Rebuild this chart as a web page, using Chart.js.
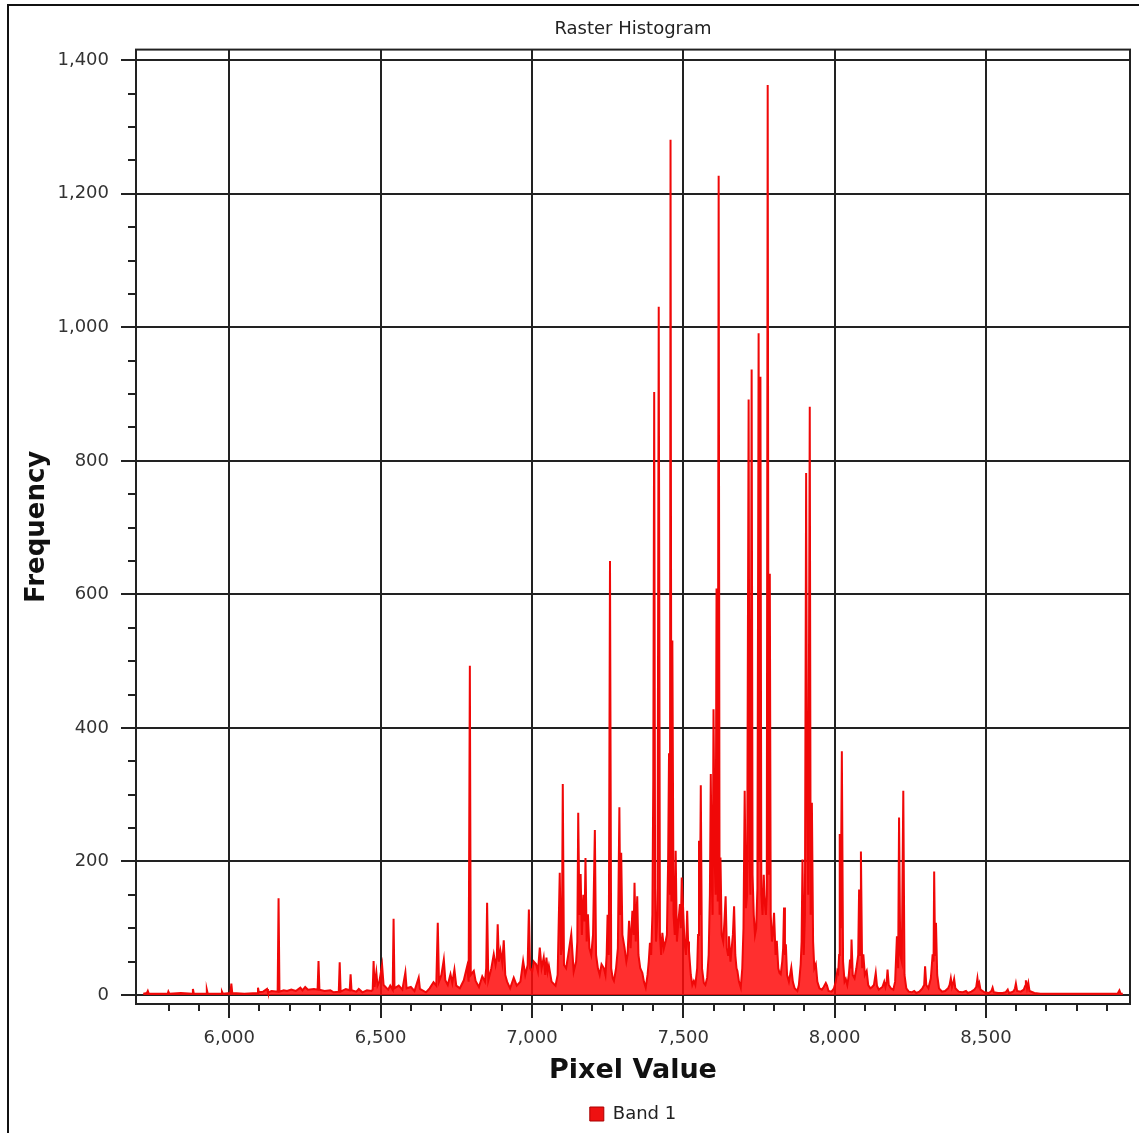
<!DOCTYPE html>
<html>
<head>
<meta charset="utf-8">
<script src="https://cdn.jsdelivr.net/npm/chart.js@4.4.0/dist/chart.umd.min.js"></script>
<style>
  html, body { margin: 0; padding: 0; background: #fff; }
  #wrap { position: relative; width: 1139px; height: 1133px; overflow: hidden; }
  #frame { position: absolute; left: 7px; top: 4px; width: 1300px; height: 1300px;
           border-left: 2px solid #111; border-top: 2px solid #111; }
  #chart { position: absolute; left: 0; top: 0; }
</style>
</head>
<body>
<div id="wrap">
  <div id="frame"></div>
  <canvas id="chart" width="1139" height="1133"></canvas>
</div>
<script>
// Histogram: pixel value -> frequency
const pixelValues = [
  5716, 5728, 5731, 5734, 5760, 5797, 5799, 5802, 5840, 5878, 5880, 5883, 5924, 5926, 5929, 5974, 5976, 5979,
  6004, 6007, 6010, 6050, 6093, 6095, 6098, 6112, 6125, 6128, 6140, 6160, 6163, 6166, 6180, 6191, 6205, 6220,
  6235, 6242, 6251, 6260, 6280, 6292, 6295, 6298, 6315, 6334, 6345, 6362, 6365, 6368, 6385, 6398, 6401, 6404,
  6420, 6428, 6440, 6455, 6470, 6474, 6477, 6480, 6486, 6490, 6496, 6505, 6510, 6525, 6532, 6540, 6543, 6546,
  6560, 6572, 6582, 6586, 6600, 6612, 6626, 6630, 6650, 6662, 6675, 6684, 6689, 6693, 6701, 6709, 6714, 6722,
  6731, 6737, 6744, 6750, 6762, 6775, 6786, 6791, 6795, 6798, 6808, 6814, 6825, 6836, 6845, 6849, 6852, 6856,
  6866, 6874, 6880, 6884, 6887, 6891, 6896, 6902, 6907, 6912, 6918, 6928, 6940, 6950, 6962, 6971, 6978, 6986,
  6990, 6994, 7001, 7006, 7014, 7020, 7026, 7032, 7039, 7044, 7048, 7052, 7056, 7065, 7078, 7085, 7092, 7096,
  7099, 7102, 7106, 7113, 7120, 7130, 7138, 7146, 7150, 7153, 7157, 7161, 7165, 7170, 7174, 7177, 7181, 7185,
  7190, 7196, 7202, 7208, 7212, 7218, 7224, 7230, 7238, 7243, 7247, 7250, 7254, 7258, 7262, 7267, 7271, 7278,
  7284, 7289, 7292, 7295, 7299, 7306, 7312, 7316, 7321, 7326, 7332, 7336, 7339, 7343, 7348, 7352, 7358, 7365,
  7370, 7376, 7382, 7386, 7390, 7394, 7398, 7401, 7404, 7407, 7410, 7415, 7419, 7423, 7427, 7431, 7436, 7442,
  7446, 7450, 7453, 7456, 7458, 7461, 7464, 7468, 7472, 7475, 7479, 7484, 7489, 7492, 7495, 7499, 7504, 7509,
  7513, 7516, 7519, 7525, 7530, 7535, 7540, 7546, 7549, 7552, 7555, 7558, 7562, 7568, 7573, 7579, 7584, 7588,
  7591, 7594, 7597, 7600, 7604, 7607, 7610, 7614, 7617, 7620, 7623, 7627, 7632, 7636, 7640, 7644, 7648, 7651,
  7656, 7660, 7664, 7668, 7672, 7676, 7679, 7684, 7690, 7695, 7699, 7703, 7707, 7711, 7716, 7719, 7722, 7726,
  7729, 7733, 7737, 7741, 7745, 7749, 7752, 7755, 7758, 7762, 7766, 7769, 7773, 7776, 7779, 7782, 7786, 7789,
  7793, 7796, 7800, 7805, 7809, 7814, 7818, 7822, 7827, 7830, 7833, 7836, 7839, 7843, 7849, 7853, 7857, 7862,
  7868, 7873, 7877, 7882, 7888, 7891, 7894, 7898, 7902, 7906, 7909, 7913, 7918, 7921, 7925, 7929, 7933, 7938,
  7943, 7950, 7958, 7964, 7971, 7975, 7980, 7990, 7998, 8004, 8009, 8012, 8015, 8017, 8020, 8024, 8028, 8033,
  8037, 8042, 8047, 8051, 8054, 8056, 8060, 8066, 8072, 8078, 8081, 8084, 8087, 8091, 8095, 8100, 8106, 8111,
  8118, 8124, 8130, 8136, 8140, 8146, 8152, 8158, 8164, 8168, 8172, 8175, 8179, 8186, 8194, 8200, 8206, 8210,
  8213, 8217, 8222, 8227, 8231, 8237, 8245, 8255, 8263, 8270, 8280, 8290, 8296, 8299, 8303, 8310, 8318, 8324,
  8327, 8329, 8332, 8335, 8339, 8345, 8355, 8365, 8375, 8380, 8384, 8388, 8392, 8395, 8399, 8410, 8422, 8434,
  8440, 8452, 8462, 8468, 8472, 8475, 8478, 8482, 8495, 8510, 8518, 8522, 8526, 8540, 8555, 8565, 8572, 8576,
  8585, 8592, 8596, 8599, 8603, 8615, 8625, 8630, 8632, 8636, 8640, 8644, 8660, 8680, 8720, 8780, 8850, 8900,
  8935, 8941, 8945, 8952
];
const frequencies = [
  2, 3, 6, 2, 2, 2, 5, 2, 3, 2, 9, 2, 2, 8, 2, 2, 5, 2,
  3, 17, 3, 2, 3, 11, 4, 5, 9, 4, 6, 5, 145, 5, 7, 6, 8, 6,
  11, 7, 12, 8, 9, 8, 51, 8, 6, 7, 4, 5, 49, 5, 9, 7, 31, 7,
  5, 9, 4, 7, 6, 8, 51, 12, 34, 14, 20, 45, 15, 8, 14, 8, 114, 10,
  14, 8, 34, 10, 12, 6, 26, 9, 4, 10, 19, 14, 108, 20, 30, 53, 22, 15,
  31, 18, 38, 14, 10, 22, 43, 20, 493, 30, 36, 21, 12, 28, 20, 40, 138, 22,
  40, 61, 45, 55, 106, 50, 66, 48, 82, 30, 20, 10, 26, 14, 20, 51, 30, 45,
  128, 40, 35, 50, 46, 35, 71, 40, 56, 30, 56, 35, 44, 20, 14, 30, 183, 60,
  70, 316, 45, 40, 60, 91, 35, 50, 80, 273, 120, 181, 90, 150, 110, 205, 80, 121,
  70, 60, 90, 247, 60, 40, 30, 46, 40, 30, 60, 120, 60, 650, 40, 25, 21, 40,
  70, 281, 120, 213, 90, 71, 50, 60, 111, 70, 126, 90, 168, 80, 148, 60, 40, 33,
  20, 11, 30, 50, 78, 60, 120, 322, 903, 160, 80, 120, 1031, 90, 60, 93, 70, 81,
  90, 200, 362, 150, 1281, 140, 531, 120, 90, 216, 80, 110, 136, 100, 176, 136, 80, 60,
  126, 80, 66, 30, 15, 21, 15, 40, 90, 231, 120, 314, 40, 18, 15, 26, 60, 150,
  331, 180, 120, 428, 200, 150, 609, 140, 1227, 120, 206, 90, 80, 110, 148, 70, 60, 88,
  50, 70, 90, 133, 60, 40, 36, 20, 11, 40, 100, 306, 130, 150, 892, 200, 150, 937,
  180, 120, 90, 100, 160, 991, 200, 926, 150, 120, 180, 141, 120, 150, 1363, 180, 631, 120,
  80, 90, 123, 60, 81, 40, 33, 31, 50, 70, 131, 60, 76, 30, 20, 30, 41, 20,
  10, 8, 6, 15, 46, 80, 203, 60, 120, 782, 300, 150, 881, 120, 288, 80, 40, 46,
  20, 10, 8, 12, 18, 14, 6, 5, 10, 20, 36, 33, 60, 241, 100, 365, 50, 20,
  24, 15, 30, 53, 40, 83, 30, 25, 40, 60, 158, 60, 215, 40, 61, 30, 36, 15,
  10, 12, 15, 33, 14, 8, 10, 12, 20, 12, 20, 38, 15, 10, 8, 20, 88, 40,
  266, 60, 50, 306, 30, 10, 5, 4, 6, 3, 5, 10, 15, 43, 15, 10, 25, 61,
  50, 185, 60, 108, 30, 10, 5, 6, 10, 15, 25, 12, 18, 24, 10, 5, 4, 6,
  3, 5, 8, 12, 25, 14, 18, 8, 4, 3, 6, 11, 4, 3, 3, 4, 8, 3,
  4, 6, 10, 17, 6, 5, 8, 14, 22, 10, 18, 6, 3, 2, 2, 2, 2, 2,
  2, 7, 2, 2
];
const xTickValues = [6000, 6500, 7000, 7500, 8000, 8500];
const yTickValues = [0, 200, 400, 600, 800, 1000, 1200, 1400];
const X_MIN = 5692, X_MAX = 8976;
const Y_MIN = -13.5, Y_MAX = 1416;

const INK = "#222";
const FONT = "'DejaVu Sans', Verdana, sans-serif";

// minor ticks every 100 / 50 and the box round the plot
const plotFrame = {
  id: "plotFrame",
  afterDraw(chart) {
    const { ctx, chartArea: a, scales: { x, y } } = chart;
    ctx.save();
    ctx.strokeStyle = INK;
    ctx.lineWidth = 2;
    ctx.beginPath();
    for (let v = 5800; v < X_MAX; v += 100) {
      if (v % 500 === 0) continue;
      const px = Math.round(x.getPixelForValue(v));
      ctx.moveTo(px, a.bottom);
      ctx.lineTo(px, a.bottom + 7);
    }
    for (let v = 50; v < Y_MAX; v += 50) {
      if (v % 200 === 0) continue;
      const py = Math.round(y.getPixelForValue(v));
      ctx.moveTo(a.left - 8, py);
      ctx.lineTo(a.left, py);
    }
    ctx.stroke();
    ctx.strokeRect(a.left, a.top, a.width, a.height);
    ctx.restore();
  }
};

const fmt = v => Number(v).toLocaleString("en-US");

new Chart(document.getElementById("chart"), {
  type: "line",
  data: {
    datasets: [{
      label: "Band 1",
      data: pixelValues.map((x, i) => ({ x, y: frequencies[i] })),
      borderColor: "#f00808",
      backgroundColor: "rgba(255, 10, 10, 0.85)",
      borderWidth: 2,
      pointRadius: 0,
      tension: 0,
      fill: "origin"
    }]
  },
  options: {
    responsive: false,
    animation: false,
    layout: { padding: { left: 22, right: 9, top: 10, bottom: 0 } },
    plugins: {
      title: {
        display: true,
        fullSize: false,
        text: "Raster Histogram",
        color: "#222",
        font: { family: FONT, size: 18, weight: "normal" },
        padding: { top: 9, bottom: 9 }
      },
      legend: {
        display: true,
        fullSize: false,
        position: "bottom",
        labels: {
          color: "#222",
          font: { family: FONT, size: 18 },
          boxWidth: 14,
          boxHeight: 14,
          padding: 10,
          generateLabels: chart =>
            Chart.defaults.plugins.legend.labels.generateLabels(chart)
              .map(l => ({ ...l, fillStyle: "#ee1111", strokeStyle: "#a00", lineWidth: 1 }))
        }
      },
      tooltip: { enabled: false }
    },
    scales: {
      x: {
        type: "linear",
        min: X_MIN,
        max: X_MAX,
        afterBuildTicks: s => { s.ticks = xTickValues.map(value => ({ value })); },
        afterFit: s => { s.height = 91; },
        grid: { color: INK, lineWidth: 2, tickLength: 14, tickColor: INK },
        border: { display: true, color: INK, width: 2 },
        ticks: { color: "#333", font: { family: FONT, size: 18 }, padding: 10, maxRotation: 0, callback: fmt },
        title: {
          display: true,
          text: "Pixel Value",
          color: "#111",
          font: { family: FONT, size: 27, weight: "bold" },
          padding: { top: 0, bottom: 8 }
        }
      },
      y: {
        min: Y_MIN,
        max: Y_MAX,
        afterBuildTicks: s => { s.ticks = yTickValues.map(value => ({ value })); },
        afterFit: s => { s.width = 114; },
        grid: { color: INK, lineWidth: 2, tickLength: 15, tickColor: INK },
        border: { display: true, color: INK, width: 2 },
        ticks: { color: "#333", font: { family: FONT, size: 18 }, padding: 12, callback: fmt },
        title: {
          display: true,
          text: "Frequency",
          color: "#111",
          font: { family: FONT, size: 26, weight: "bold" },
          padding: { top: 0, bottom: 0 }
        }
      }
    }
  },
  plugins: [plotFrame]
});
</script>
</body>
</html>
